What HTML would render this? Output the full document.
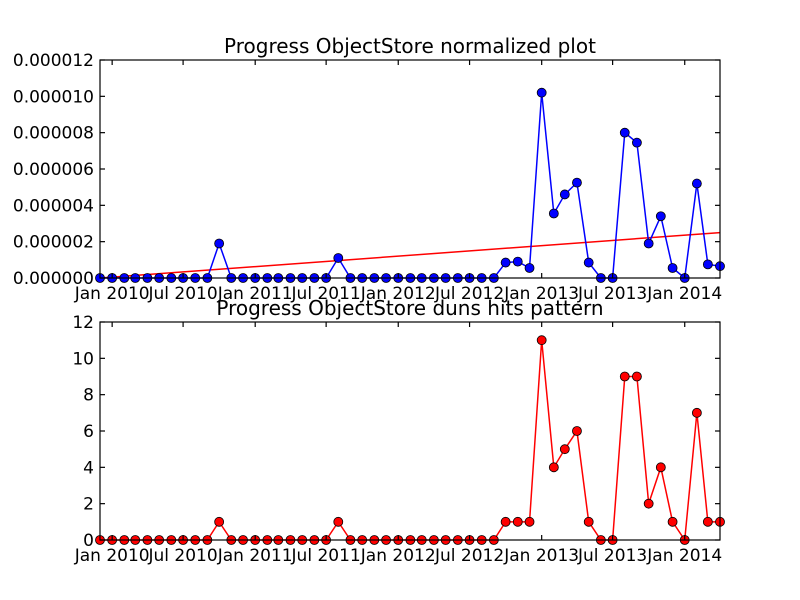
<!DOCTYPE html>
<html><head><meta charset="utf-8"><style>
html,body{margin:0;padding:0;background:#fff;}
svg{display:block;font-family:"DejaVu Sans","Liberation Sans",sans-serif;}
</style></head><body>
<svg id="chart" width="800" height="600" xmlns="http://www.w3.org/2000/svg">
<rect width="800" height="600" fill="#fff"/>
</svg>
<script>
const monthsStart = [2009, 11]; // Dec 2009 (year, zero-based month)
const normValues = [0,0,0,0,0,0,0,0,0,0,1.9e-6,0,0,0,0,0,0,0,0,0,1.1e-6,0,0,0,0,0,0,0,0,0,0,0,0,0,0.85e-6,0.9e-6,0.55e-6,10.2e-6,3.55e-6,4.6e-6,5.25e-6,0.85e-6,0,0,8.0e-6,7.45e-6,1.9e-6,3.4e-6,0.55e-6,0,5.2e-6,0.75e-6,0.65e-6];
const hitValues = [0,0,0,0,0,0,0,0,0,0,1,0,0,0,0,0,0,0,0,0,1,0,0,0,0,0,0,0,0,0,0,0,0,0,1,1,1,11,4,5,6,1,0,0,9,9,2,4,1,0,7,1,1];
const trendStart = 0.0;
const trendEnd = 2.5e-6;
const xTickLabels = ["Jan 2010","Jul 2010","Jan 2011","Jul 2011","Jan 2012","Jul 2012","Jan 2013","Jul 2013","Jan 2014"];
const xTickDates = [[2010,0],[2010,6],[2011,0],[2011,6],[2012,0],[2012,6],[2013,0],[2013,6],[2014,0]];
const topTicks = [0,2e-6,4e-6,6e-6,8e-6,10e-6,12e-6];
const topTickLabels = ["0.000000","0.000002","0.000004","0.000006","0.000008","0.000010","0.000012"];
const botTicks = [0,2,4,6,8,10,12];

const svg = document.getElementById('chart');
const NS = 'http://www.w3.org/2000/svg';
function mk(tag, attrs, parent){const e=document.createElementNS(NS,tag);for(const k in attrs)e.setAttribute(k,attrs[k]);(parent||svg).appendChild(e);return e;}
function dayOf(y,m){return Date.UTC(y,m,1)/86400000;}
const d0 = dayOf(monthsStart[0], monthsStart[1]);
const d1 = dayOf(monthsStart[0], monthsStart[1] + normValues.length - 1);
const X0 = 100, X1 = 720;
function xScale(d){return X0 + (d - d0) / (d1 - d0) * (X1 - X0);}
function dateAt(i){return dayOf(monthsStart[0], monthsStart[1] + i);}

function panel(name, top, bottom, ymax, yticks, ylabels, values, color, title, trend){
  const ys = v => bottom - v / ymax * (bottom - top);
  const g = mk('g', {});
  
  
  const t = mk('text', {x: 410, y: top - 7, 'text-anchor': 'middle', 'font-size': 20, fill: '#000'}, g);
  
  
  t.textContent = title;
  if (trend) {
    const tl = mk('line', {x1: xScale(d0), y1: ys(trend[0]), x2: xScale(d1), y2: ys(trend[1]), stroke: '#f00', 'stroke-width': 1.5}, g);
    
    
  }
  const pts = values.map((v,i) => xScale(dateAt(i)).toFixed(2) + ',' + ys(v).toFixed(2)).join(' ');
  const pl = mk('polyline', {points: pts, fill: 'none', stroke: color, 'stroke-width': 1.5}, g);
  
  
  values.forEach((v,i) => {
    const c = mk('circle', {cx: xScale(dateAt(i)), cy: ys(v), r: 4.5, fill: color, stroke: '#000', 'stroke-width': 0.8}, g);
    
    
  });
  const fr = mk('rect', {x: X0, y: top, width: X1 - X0, height: bottom - top, fill: 'none', stroke: '#000', 'stroke-width': 1.2}, g);
  
  
  yticks.forEach((v,i) => {
    const y = ys(v);
    mk('line', {x1: X0, y1: y, x2: X0 + 5, y2: y, stroke: '#000', 'stroke-width': 1.2}, g);
    mk('line', {x1: X1, y1: y, x2: X1 - 5, y2: y, stroke: '#000', 'stroke-width': 1.2}, g);
    const tx = mk('text', {x: X0 - 6, y: y + 6, 'text-anchor': 'end', 'font-size': 17, fill: '#000'}, g);
    
    
    tx.textContent = ylabels[i];
  });
  xTickDates.forEach((d,i) => {
    const x = xScale(dayOf(d[0], d[1]));
    mk('line', {x1: x, y1: bottom, x2: x, y2: bottom - 5, stroke: '#000', 'stroke-width': 1.2}, g);
    mk('line', {x1: x, y1: top, x2: x, y2: top + 5, stroke: '#000', 'stroke-width': 1.2}, g);
    const tx = mk('text', {x: x, y: bottom + 21, 'text-anchor': 'middle', 'font-size': 17, fill: '#000'}, g);
    
    
    tx.textContent = xTickLabels[i];
  });
}
panel('normalized-plot', 60, 278, 12e-6, topTicks, topTickLabels, normValues, '#0000ff', 'Progress ObjectStore normalized plot', [trendStart, trendEnd]);
panel('hits-plot', 322, 540, 12, botTicks, botTicks.map(String), hitValues, '#ff0000', 'Progress ObjectStore duns hits pattern', null);
</script>
</body></html>
